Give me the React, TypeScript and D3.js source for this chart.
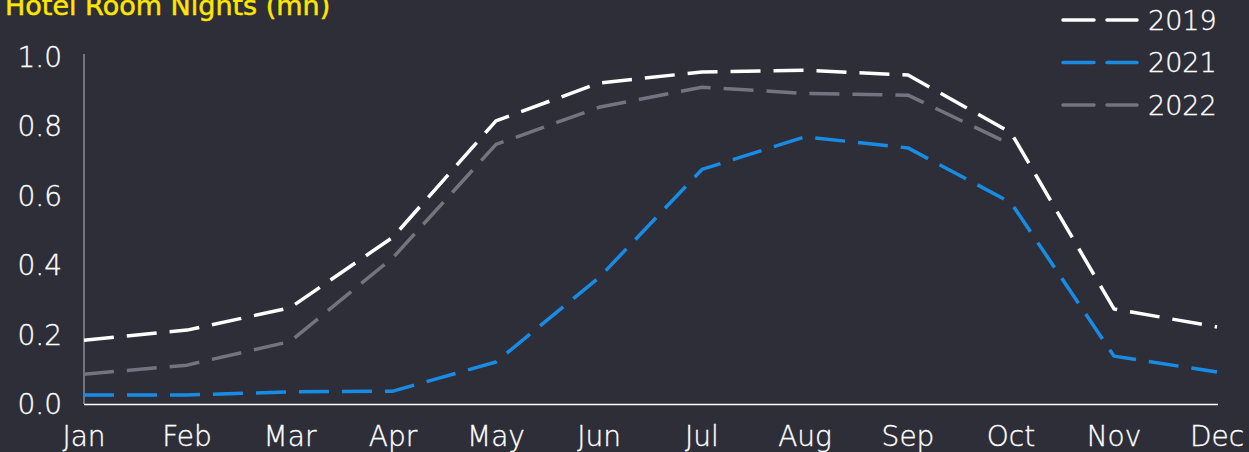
import * as d3 from "d3";

const months = ["Jan", "Feb", "Mar", "Apr", "May", "Jun", "Jul", "Aug", "Sep", "Oct", "Nov", "Dec"];
const yTicks = [0, 0.2, 0.4, 0.6, 0.8, 1.0];

const values2019 = [0.184, 0.213, 0.277, 0.481, 0.816, 0.925, 0.957, 0.962, 0.948, 0.782, 0.274, 0.222];
const values2021 = [0.026, 0.026, 0.035, 0.037, 0.121, 0.364, 0.676, 0.77, 0.738, 0.58, 0.138, 0.092];
const values2022 = [0.086, 0.112, 0.18, 0.422, 0.748, 0.855, 0.913, 0.895, 0.89, 0.748];

const seriesList = [
  { name: "2019", color: "#ffffff", values: values2019 },
  { name: "2021", color: "#188ce5", values: values2021 },
  { name: "2022", color: "#747480", values: values2022 },
];

const W = 1249;
const H = 452;
const FONT = "'DejaVu Sans', 'Noto Sans', sans-serif";

export default function App() {
  const x = d3.scalePoint<string>().domain(months).range([84, 1217]);
  const y = d3.scaleLinear().domain([0, 1]).range([404, 57]);

  const line = d3
    .line<number>()
    .x((_, i) => x(months[i]) ?? 0)
    .y((v) => y(v));

  const labelStyle = {
    fill: "#ffffff",
    stroke: "#ffffff",
    strokeWidth: 0.35,
    fontFamily: FONT,
    fontWeight: 200,
  };

  return (
    <svg
      width={W}
      height={H}
      style={{ position: "fixed", top: 0, left: 0, display: "block" }}
    >
      <rect width={W} height={H} fill="#2e2e38" />
      <text
        x={5}
        y={15}
        fill="#ffe600"
        stroke="#ffe600"
        strokeWidth={0.5}
        fontFamily={FONT}
        fontSize={27}
      >
        Hotel Room Nights (mn)
      </text>

      {/* y axis */}
      <line x1={84} x2={84} y1={54} y2={404} stroke="#9a9aa2" strokeWidth={1.3} />
      {yTicks.map((t) => (
        <text key={t} x={62} y={y(t)} dy="0.36em" textAnchor="end" fontSize={28} style={labelStyle}>
          {t.toFixed(1)}
        </text>
      ))}

      {/* x axis */}
      <line x1={84} x2={1218} y1={404.5} y2={404.5} stroke="#ffffff" strokeWidth={1.3} />
      {months.map((m) => (
        <text key={m} x={x(m)} y={446} textAnchor="middle" fontSize={28} style={labelStyle}>
          {m}
        </text>
      ))}

      {seriesList.map((s) => (
        <path
          key={s.name}
          d={line(s.values) ?? ""}
          fill="none"
          stroke={s.color}
          strokeWidth={3.5}
          strokeDasharray="30 13"
          strokeLinejoin="round"
        />
      ))}

      {/* legend */}
      {seriesList.map((s, i) => (
        <g key={s.name} transform={`translate(1061, ${20 + i * 42.5})`}>
          <line
            x1={2}
            x2={76}
            y1={0}
            y2={0}
            stroke={s.color}
            strokeWidth={3.5}
            strokeDasharray="31 13"
            strokeLinecap="round"
          />
          <text x={87} y={0} dy="0.36em" fontSize={27} style={labelStyle}>
            {s.name}
          </text>
        </g>
      ))}
    </svg>
  );
}
